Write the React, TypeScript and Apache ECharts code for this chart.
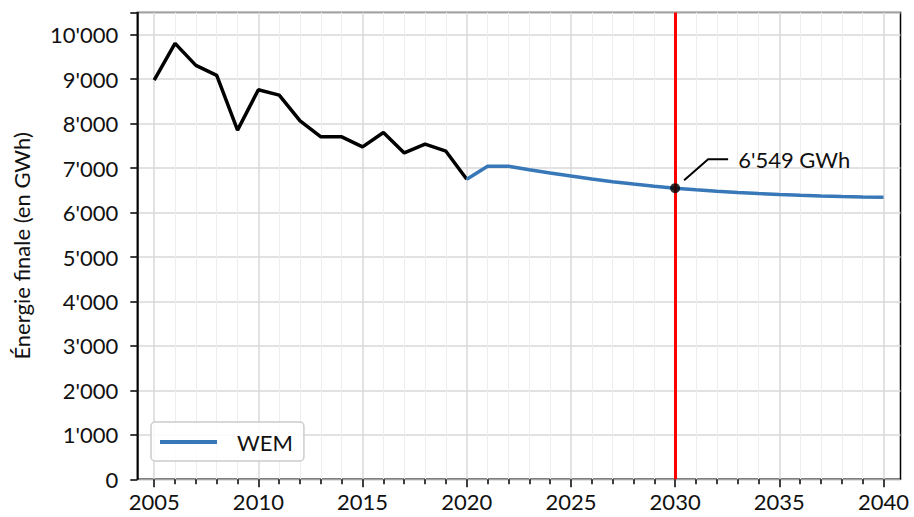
import React, { useEffect, useRef } from "react";
import * as echarts from "echarts";

const histYears = [2005, 2006, 2007, 2008, 2009, 2010, 2011, 2012, 2013, 2014, 2015, 2016, 2017, 2018, 2019, 2020];
const histValues = [8980, 9806, 9311, 9085, 7854, 8761, 8642, 8063, 7703, 7703, 7477, 7802, 7342, 7538, 7380, 6750];

const wemYears = [2020, 2021, 2022, 2023, 2024, 2025, 2026, 2027, 2028, 2029, 2030, 2031, 2032, 2033, 2034, 2035, 2036, 2037, 2038, 2039, 2040];
const wemValues = [6750, 7043, 7043, 6965, 6890, 6820, 6755, 6695, 6640, 6592, 6549, 6512, 6480, 6452, 6427, 6405, 6387, 6372, 6360, 6351, 6345];

const highlightYear = 2030;
const highlightValue = 6549;
const highlightLabel = "6'549 GWh";
const yAxisTitle = "Énergie finale (en GWh)";
const legendLabel = "WEM";
const histLabel = "Historique";

const FONT = 'Lato, "Open Sans", sans-serif';

function fmtThousands(v: number): string {
  return String(Math.round(v)).replace(/\B(?=(\d{3})+(?!\d))/g, "'");
}

export default function App() {
  const ref = useRef<HTMLDivElement>(null);

  useEffect(() => {
    if (!ref.current) return;
    const chart = echarts.init(ref.current, null, { renderer: "svg" });
    const top = 12.5;
    const bottom = 37.7;
    const option: any = {
      animation: false,
      backgroundColor: "#ffffff",
      textStyle: { fontFamily: FONT },
      grid: [
        { left: 137.3, right: 13.5, top, bottom, show: true, borderColor: "#000", borderWidth: 1.5, backgroundColor: "transparent" },
        { left: 154.2, right: 30.5, top, bottom },
      ],
      xAxis: [
        { gridIndex: 0, type: "value", min: 0, max: 1, show: false },
        {
          gridIndex: 1,
          type: "value",
          min: 2005,
          max: 2040,
          interval: 5,
          axisLine: { show: false },
          axisTick: { show: true, length: 8, lineStyle: { color: "#000", width: 1.5 } },
          minorTick: { show: true, splitNumber: 5, length: 5, lineStyle: { color: "#000", width: 1.5 } },
          axisLabel: { color: "#111", fontSize: 22, fontFamily: FONT, margin: 11, formatter: (v: number) => String(v) },
          splitLine: { show: true, lineStyle: { color: "#d9d9d9", width: 1.5 } },
          minorSplitLine: { show: true, lineStyle: { color: "#eeeeee", width: 1 } },
        },
      ],
      yAxis: [
        {
          gridIndex: 0,
          type: "value",
          min: 0,
          max: 10500,
          interval: 1000,
          name: yAxisTitle,
          nameLocation: "middle",
          nameGap: 105,
          nameTextStyle: { fontSize: 22, color: "#111", fontFamily: FONT },
          axisLine: { show: true, lineStyle: { color: "#000", width: 1.5 } },
          axisTick: { show: true, length: 7, lineStyle: { color: "#000", width: 1.5 } },
          axisLabel: {
            color: "#111",
            fontSize: 22,
            fontFamily: FONT,
            margin: 19,
            formatter: (v: number) => (v > 10000 ? "" : fmtThousands(v)),
          },
          splitLine: { show: true, lineStyle: { color: "#d9d9d9", width: 1.5 } },
        },
        { gridIndex: 1, type: "value", min: 0, max: 10500, show: false },
      ],
      legend: {
        data: [legendLabel],
        left: 151,
        top: 422,
        orient: "vertical",
        padding: [9, 11, 8, 9],
        borderColor: "#cccccc",
        borderWidth: 1.5,
        borderRadius: 4,
        backgroundColor: "rgba(255,255,255,0.85)",
        icon: "rect",
        itemWidth: 57,
        itemHeight: 4,
        textStyle: { fontSize: 22, color: "#111", fontFamily: FONT, padding: [0, 0, 0, 15] },
      },
      series: [
        {
          name: histLabel,
          type: "line",
          xAxisIndex: 1,
          yAxisIndex: 1,
          data: histYears.map((y, i) => [y, histValues[i]]),
          symbol: "none",
          lineStyle: { color: "#000", width: 3.5 },
          itemStyle: { color: "#000" },
          z: 3,
        },
        {
          name: legendLabel,
          type: "line",
          xAxisIndex: 1,
          yAxisIndex: 1,
          data: wemYears.map((y, i) => [y, wemValues[i]]),
          symbol: "none",
          lineStyle: { color: "#3878b8", width: 3.5 },
          itemStyle: { color: "#3878b8" },
          z: 3,
          markLine: {
            silent: true,
            symbol: "none",
            label: { show: false },
            lineStyle: { color: "#ff0000", width: 3, type: "solid" },
            data: [{ xAxis: highlightYear }],
            z: 4,
          },
        },
        {
          name: "point",
          type: "scatter",
          xAxisIndex: 1,
          yAxisIndex: 1,
          data: [[highlightYear, highlightValue]],
          symbolSize: 10,
          itemStyle: { color: "#000" },
          z: 6,
        },
      ],
    };
    chart.setOption(option);
    const p = chart.convertToPixel({ gridIndex: 1 } as any, [highlightYear, highlightValue]) as number[];
    if (p) {
      const [px, py] = p;
      chart.setOption({
        graphic: [
          {
            type: "polyline",
            shape: { points: [[px + 9, py - 8], [px + 33, py - 29], [px + 53, py - 29]] },
            style: { stroke: "#000", lineWidth: 2, fill: "none" },
            z: 10,
          },
          {
            type: "text",
            x: px + 63,
            y: py - 29,
            style: { text: highlightLabel, fontSize: 22, fontFamily: FONT, fill: "#111", verticalAlign: "middle", align: "left" },
            z: 10,
          },
        ],
      });
    }
    return () => chart.dispose();
  }, []);

  return <div ref={ref} style={{ position: "absolute", left: 0, top: 0, width: 914, height: 517 }} />;
}
